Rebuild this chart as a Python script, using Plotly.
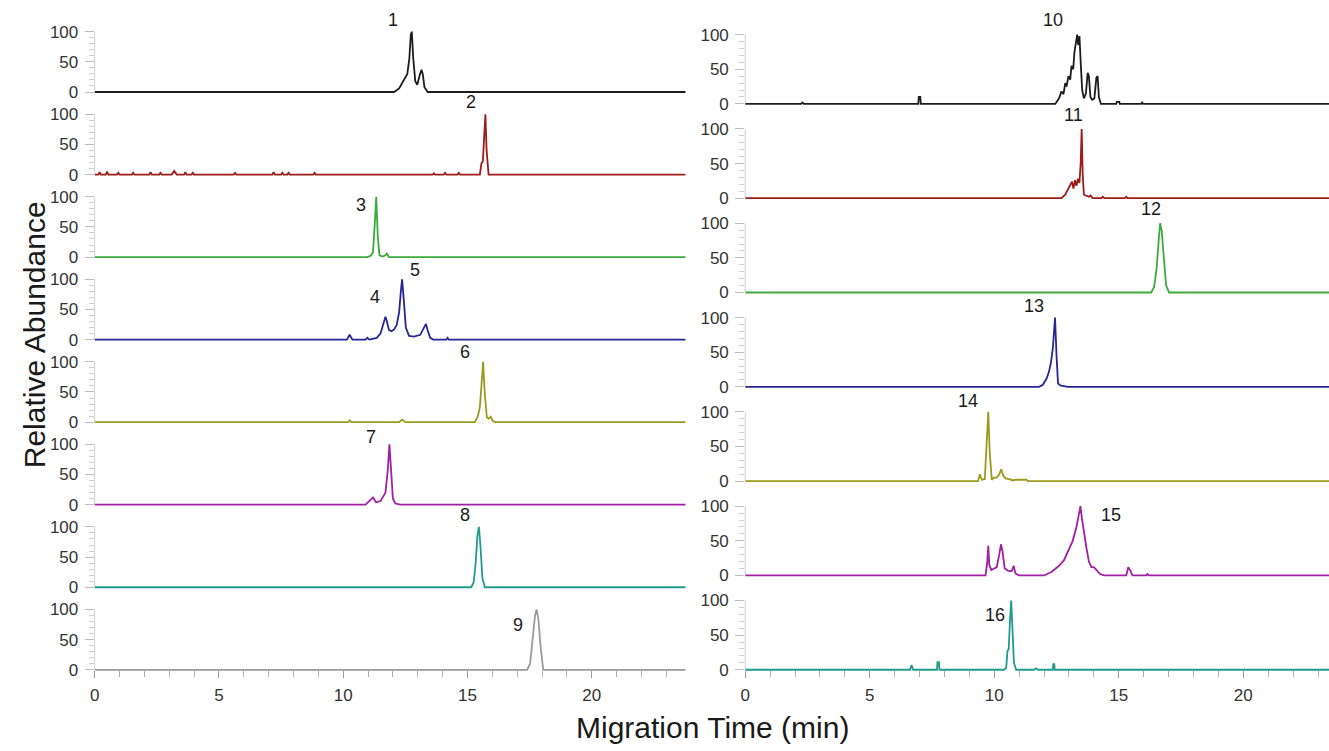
import plotly.graph_objects as go

# ---------------- electropherogram data (time in min, relative abundance in %) ----------------
T1 = [0, 12.05, 12.25, 12.45, 12.58, 12.66, 12.72, 12.76, 12.82, 12.9,
      12.98, 13.08, 13.15, 13.2, 13.27, 13.4, 23.8]
A1 = [0, 0, 6, 20, 30, 55, 95, 100, 55, 18,
      12, 28, 37, 30, 8, 0, 0]

T2 = [0,
      0.15, 0.2, 0.25, 0.45, 0.5, 0.55, 0.9, 0.95, 1.0,
      1.5, 1.55, 1.6, 2.2, 2.25, 2.3, 2.6, 2.65, 2.7,
      3.1, 3.2, 3.3, 3.6, 3.65, 3.7, 3.9, 3.95, 4.0,
      5.6, 5.65, 5.7, 7.15, 7.2, 7.25, 7.5, 7.55, 7.6,
      7.75, 7.8, 7.85, 8.8, 8.85, 8.9, 13.6, 13.65, 13.7,
      14.05, 14.1, 14.15, 14.6, 14.65, 14.7,
      15.5, 15.56, 15.62, 15.68, 15.72, 15.77, 15.85,
      23.8]
A2 = [0,
      0, 4, 0, 0, 5, 0, 0, 3, 0,
      0, 3, 0, 0, 4, 0, 0, 3, 0,
      0, 6, 0, 0, 4, 0, 0, 3, 0,
      0, 3, 0, 0, 4, 0, 0, 3, 0,
      0, 3, 0, 0, 3, 0, 0, 2, 0,
      0, 3, 0, 0, 3, 0,
      0, 18, 22, 70, 100, 40, 0,
      0]

T3 = [0, 10.95, 11.1, 11.2, 11.27, 11.33, 11.39, 11.46, 11.58, 11.7, 11.76, 11.84, 23.8]
A3 = [0, 0, 2, 8, 55, 100, 35, 3, 1, 3, 6, 0, 0]

T45 = [0, 10.15, 10.26, 10.37, 10.9, 10.97, 11.05, 11.35, 11.5, 11.62,
       11.7, 11.76, 11.84, 11.95, 12.05, 12.15, 12.25, 12.32, 12.37, 12.43,
       12.52, 12.65, 12.85, 13.1, 13.25, 13.33, 13.4, 13.5, 13.62, 14.15,
       14.2, 14.25, 23.8]
A45 = [0, 0, 8, 0, 0, 3, 0, 3, 10, 28,
       38, 30, 16, 14, 17, 24, 45, 80, 100, 70,
       20, 6, 5, 8, 20, 26, 15, 3, 0, 0,
       3, 0, 0]

T6 = [0, 10.2, 10.26, 10.32, 12.25, 12.37, 12.5, 15.3, 15.42, 15.5,
      15.57, 15.63, 15.7, 15.78, 15.85, 15.93, 16.02, 16.12, 23.8]
A6 = [0, 0, 3, 0, 0, 4, 0, 0, 10, 25,
      65, 100, 45, 8, 6, 9, 2, 0, 0]

T7 = [0, 10.9, 11.1, 11.2, 11.32, 11.5, 11.7, 11.8, 11.86, 11.92, 12.0, 12.1, 12.3, 23.8]
A7 = [0, 0, 8, 12, 4, 6, 20, 60, 100, 55, 10, 2, 0, 0]

T8 = [0, 15.15, 15.25, 15.33, 15.4, 15.46, 15.52, 15.6, 15.7, 23.8]
A8 = [0, 0, 8, 40, 85, 100, 70, 15, 0, 0]

T9 = [0, 17.4, 17.52, 17.62, 17.72, 17.78, 17.85, 17.95, 18.05, 23.8]
A9 = [0, 0, 10, 45, 90, 100, 85, 35, 0, 0]

T10 = [0, 2.25, 2.3, 2.35, 6.95, 6.97, 7.03, 7.05,
       12.45, 12.6, 12.7, 12.78, 12.85, 12.9, 12.98, 13.05, 13.1, 13.17,
       13.22, 13.28, 13.33, 13.37, 13.42, 13.47, 13.53, 13.6, 13.68, 13.75,
       13.8, 13.86, 13.93, 14.02, 14.1, 14.15, 14.2, 14.28,
       14.9, 14.92, 15.02, 15.04, 15.9, 15.94, 15.98, 23.8]
A10 = [0, 0, 2, 0, 0, 10, 10, 0,
       0, 8, 18, 14, 30, 25, 40, 35, 55, 50,
       75, 90, 100, 85, 98, 60, 20, 8, 15, 45,
       40, 10, 6, 8, 38, 40, 10, 0,
       0, 3, 3, 0, 0, 2, 0, 0]

T11 = [0, 12.7, 12.85, 12.95, 13.05, 13.12, 13.18, 13.24, 13.3, 13.36,
       13.42, 13.47, 13.51, 13.55, 13.6, 13.7, 13.8, 13.87, 13.95,
       14.3, 14.36, 14.42, 15.25, 15.3, 15.35, 23.8]
A11 = [0, 0, 5, 12, 20, 24, 14, 26, 18, 28,
       22, 50, 100, 35, 5, 3, 2, 4, 0,
       0, 2, 0, 0, 2, 0, 0]

T12 = [0, 16.3, 16.42, 16.52, 16.6, 16.66, 16.72, 16.8, 16.9, 17.02, 23.8]
A12 = [0, 0, 8, 35, 75, 100, 90, 50, 10, 0, 0]

T13 = [0, 11.8, 11.95, 12.1, 12.2, 12.28, 12.35, 12.4, 12.44, 12.5,
       12.56, 12.65, 12.85, 12.95, 23.8]
A13 = [0, 0, 3, 12, 22, 36, 55, 85, 100, 45,
       5, 2, 1, 0, 0]

T14 = [0, 9.35, 9.42, 9.5, 9.62, 9.7, 9.76, 9.82, 9.9, 9.98,
       10.1, 10.2, 10.28, 10.36, 10.45, 10.6, 10.75, 10.85, 11.0, 11.05,
       11.3, 11.35, 23.8]
A14 = [0, 0, 10, 2, 3, 50, 100, 40, 2, 5,
       5, 10, 17, 8, 4, 3, 1, 2, 2, 1,
       2, 0, 0]

T15 = [0, 9.65, 9.72, 9.76, 9.8, 9.88, 10.0, 10.1, 10.2, 10.27,
       10.33, 10.42, 10.55, 10.7, 10.78, 10.85, 11.0, 12.0, 12.3, 12.6,
       12.8, 13.0, 13.15, 13.3, 13.4, 13.46, 13.52, 13.6, 13.7, 13.8,
       13.9, 14.0, 14.1, 14.25, 14.4, 15.3, 15.38, 15.45, 15.55, 16.1,
       16.15, 16.2, 23.8]
A15 = [0, 0, 20, 43, 15, 8, 10, 12, 30, 45,
       35, 10, 7, 6, 14, 3, 0, 0, 5, 14,
       22, 38, 50, 70, 90, 100, 82, 60, 40, 20,
       12, 12, 8, 2, 0, 0, 12, 8, 0, 0,
       2, 0, 0]

T16 = [0, 6.62, 6.68, 6.74, 7.7, 7.72, 7.78, 7.8, 10.4, 10.48,
       10.53, 10.58, 10.63, 10.68, 10.73, 10.79, 10.88, 11.6, 11.68, 11.76,
       12.35, 12.37, 12.41, 12.43, 23.8]
A16 = [0, 0, 7, 0, 0, 11, 11, 0, 0, 3,
       27, 30, 70, 100, 60, 10, 0, 0, 2, 0,
       0, 8, 8, 0, 0]

# peak labels: (text, time, abundance) for each panel
LABELS = [
    [("1", 12.02, 120)],
    [("2", 15.15, 120)],
    [("3", 10.70, 87)],
    [("4", 11.26, 71), ("5", 12.87, 115)],
    [("6", 14.91, 116)],
    [("7", 11.10, 113)],
    [("8", 14.91, 119)],
    [("9", 17.03, 74)],
    [("10", 12.36, 121)],
    [("11", 13.20, 120)],
    [("12", 16.28, 120)],
    [("13", 11.60, 116)],
    [("14", 8.96, 116)],
    [("15", 14.68, 88)],
    [("16", 10.04, 79)],
]

BLACK, RED, GREEN, BLUE = "#1c1c1c", "#9e1b1b", "#3caa3c", "#262696"
OLIVE, PURPLE, TEAL, GRAY = "#9a9a1e", "#a21fa2", "#1f9c8c", "#9a9a9a"

PANELS = [
    (T1, A1, BLACK), (T2, A2, RED), (T3, A3, GREEN), (T45, A45, BLUE),
    (T6, A6, OLIVE), (T7, A7, PURPLE), (T8, A8, TEAL), (T9, A9, GRAY),
    (T10, A10, BLACK), (T11, A11, RED), (T12, A12, GREEN), (T13, A13, BLUE),
    (T14, A14, OLIVE), (T15, A15, PURPLE), (T16, A16, TEAL),
]
for t, a, _ in PANELS:
    assert len(t) == len(a), (len(t), len(a))

# ---------------- page geometry (pixels) ----------------
W, H = 1329, 751
YLO, YHI = -4, 125            # headroom above 100 % holds the peak labels
LEFT_X = (90, 683, 23.77)     # x of t=0, right edge, time at right edge
RIGHT_X = (743, 1329, 23.44)
LEFT_BASE = [93 + 83.43 * i for i in range(8)]
RIGHT_BASE = [105 + 95.33 * j for j in range(7)]
LEFT_PPU, RIGHT_PPU = 0.61, 0.70   # pixels per % abundance

FONT = "Liberation Sans, Arial, sans-serif"
TICKFONT = dict(family=FONT, size=17, color="#333333")

fig = go.Figure()
layout = dict(
    width=W, height=H,
    margin=dict(l=0, r=0, t=0, b=0),
    paper_bgcolor="white", plot_bgcolor="white",
    showlegend=False,
)
annotations = []
shapes = []

for k, (t, a, color) in enumerate(PANELS, start=1):
    left = k <= 8
    xpx = LEFT_X if left else RIGHT_X
    base = LEFT_BASE[k - 1] if left else RIGHT_BASE[k - 9]
    ppu = LEFT_PPU if left else RIGHT_PPU
    bottom = k in (8, 15)

    sx = "" if k == 1 else str(k)
    xref, yref = "x" + sx, "y" + sx

    fig.add_trace(go.Scatter(
        x=t, y=a, mode="lines", xaxis=xref, yaxis=yref,
        line=dict(color=color, width=1.8), hoverinfo="skip",
    ))

    y0 = 1 - (base - YLO * ppu) / H
    y1 = 1 - (base - YHI * ppu) / H
    xax = dict(
        domain=[xpx[0] / W, xpx[1] / W], range=[0, xpx[2]],
        showgrid=False, zeroline=False, showline=False, fixedrange=True,
    )
    if bottom:
        xax.update(
            anchor="free", position=1 - base / H,
            tickvals=[0, 5, 10, 15, 20], ticks="outside", ticklen=7,
            tickcolor="#9a9a9a", tickwidth=1, tickfont=TICKFONT,
            ticklabelstandoff=3,
            minor=dict(dtick=1, tick0=0, ticks="outside", ticklen=6,
                       tickcolor="#b0b0b0", tickwidth=1),
        )
    else:
        xax.update(anchor=yref, showticklabels=False, ticks="")
    layout["xaxis" + sx] = xax

    layout["yaxis" + sx] = dict(
        domain=[y0, y1], range=[YLO, YHI], anchor=xref,
        showgrid=False, zeroline=False, showline=False, fixedrange=True,
        tickvals=[0, 50, 100], ticks="outside", ticklen=9, tickwidth=1,
        tickcolor="#bdbdbd", tickfont=TICKFONT, ticklabelstandoff=3,
        minor=dict(tickvals=[10, 20, 30, 40, 60, 70, 80, 90], ticks="outside",
                   ticklen=5, tickcolor="#cfcfcf", tickwidth=1),
    )

    # vertical scale bar from 0 to 100 %
    shapes.append(dict(
        type="line", xref=xref + " domain", yref=yref,
        x0=0, x1=0, y0=0, y1=100,
        line=dict(color="#cfcfcf", width=1), layer="below",
    ))

    for text, tx, ty in LABELS[k - 1]:
        annotations.append(dict(
            text=text, x=tx, y=ty, xref=xref, yref=yref, showarrow=False,
            font=dict(family=FONT, size=18, color="#1a1a1a"),
        ))

annotations.append(dict(
    text="Relative Abundance", x=30 / W, y=1 - 338 / H, xref="paper", yref="paper",
    textangle=-90, showarrow=False, xanchor="center", yanchor="middle",
    font=dict(family=FONT, size=30, color="#1a1a1a"),
))
annotations.append(dict(
    text="Migration Time (min)", x=710 / W, y=1 - 735 / H, xref="paper", yref="paper",
    showarrow=False, xanchor="center", yanchor="middle",
    font=dict(family=FONT, size=30, color="#1a1a1a"),
))

layout["annotations"] = annotations
layout["shapes"] = shapes
fig.update_layout(**layout)

fig.write_html("out.html")
